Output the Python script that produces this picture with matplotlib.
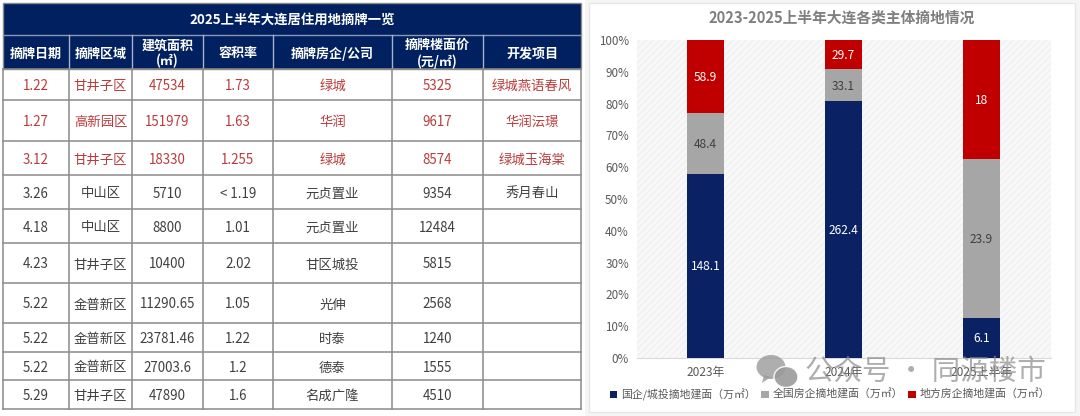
import matplotlib
matplotlib.use("Agg")
import matplotlib.pyplot as plt
from matplotlib.patches import Rectangle, Ellipse, Polygon
import numpy as np

plt.rcParams['font.family'] = ['Noto Sans CJK SC', 'DejaVu Sans']
W, H = 1080, 416

table_title = "2025上半年大连居住用地摘牌一览"
headers = ["摘牌日期", "摘牌区域", "建筑面积\n(㎡)", "容积率", "摘牌房企/公司", "摘牌楼面价\n(元/㎡)", "开发项目"]
dates = ["1.22", "1.27", "3.12", "3.26", "4.18", "4.23", "5.22", "5.22", "5.22", "5.29"]
districts = ["甘井子区", "高新园区", "甘井子区", "中山区", "中山区", "甘井子区", "金普新区", "金普新区", "金普新区", "甘井子区"]
areas = ["47534", "151979", "18330", "5710", "8800", "10400", "11290.65", "23781.46", "27003.6", "47890"]
ratios = ["1.73", "1.63", "1.255", "< 1.19", "1.01", "2.02", "1.05", "1.22", "1.2", "1.6"]
companies = ["绿城", "华润", "绿城", "元贞置业", "元贞置业", "甘区城投", "光伸", "时泰", "德泰", "名成广隆"]
prices = ["5325", "9617", "8574", "9354", "12484", "5815", "2568", "1240", "1555", "4510"]
projects = ["绿城燕语春风", "华润沄璟", "绿城玉海棠", "秀月春山", "", "", "", "", "", ""]
n_red_rows = 3

col_edges = [3, 69, 132, 203, 273, 392, 483, 581]
row_edges = [69, 100, 141, 175, 209, 243, 283, 323, 352, 380, 409]

chart_title = "2023-2025上半年大连各类主体摘地情况"
years = ["2023年", "2024年", "2025上半年"]
soe = [148.1, 262.4, 6.1]
national = [48.4, 33.1, 23.9]
local = [58.9, 29.7, 18]
legend_names = ["国企/城投摘地建面（万㎡）", "全国房企摘地建面（万㎡）", "地方房企摘地建面（万㎡）"]

NAVY, GREY, RED = "#0a2163", "#a6a6a6", "#c00000"

fig = plt.figure(figsize=(W / 100, H / 100), dpi=100, facecolor="#f5f5f5")
bg = fig.add_axes([0, 0, 1, 1])
bg.set_xlim(0, W); bg.set_ylim(H, 0); bg.axis("off")

# table panel
bg.add_patch(Rectangle((0, 0), 585, H, fc="white", ec="none"))
LINE = "#8a8a8a"
bg.add_patch(Rectangle((3, 3), 578, 66, fc="#002060", ec=LINE, lw=1))
bg.plot([3, 581], [35, 35], color="#8d97b5", lw=1)
bg.text((3 + 581) / 2, 20, table_title, color="white", fontsize=9.6, fontweight="bold", ha="center", va="center")
for i, h in enumerate(headers):
    x = (col_edges[i] + col_edges[i + 1]) / 2
    bg.text(x, 53.5, h, color="white", fontsize=9.4, fontweight="bold", ha="center", va="center", linespacing=1.15)
    if i:
        bg.plot([col_edges[i]] * 2, [35, 69], color="#a9b1c8", lw=1)

columns = [dates, districts, areas, ratios, companies, prices, projects]
for x in col_edges:
    bg.plot([x, x], [69, 409], color=LINE, lw=1.1)
for y in row_edges:
    bg.plot([3, 581], [y, y], color=LINE, lw=1.1)
for r in range(len(dates)):
    yc = (row_edges[r] + row_edges[r + 1]) / 2
    color = "#bb3b3a" if r < n_red_rows else "#404040"
    for c, col in enumerate(columns):
        if col[r]:
            bg.text((col_edges[c] + col_edges[c + 1]) / 2, yc + 1.5, col[r], color=color, fontsize=9.6,
                    ha="center", va="center")

# chart panel
bg.add_patch(Rectangle((589, 3), 486, 409, fc="white", ec="#e6e6e6", lw=1))
bg.text(842, 17.5, chart_title, color="#7f7f7f", fontsize=10.6, fontweight="bold", ha="center", va="center")

ax = fig.add_axes([636.5 / W, 1 - 358 / H, 414 / W, 318 / H])
ax.set_facecolor("#f8f8f8")
ax.patch.set_hatch("/////")
ax.patch.set_edgecolor("#f0f0f0")
ax.patch.set_linewidth(0)
x = np.arange(len(years))
total = np.array(soe) + np.array(national) + np.array(local)
bottom = np.zeros(len(years))
for vals, color, name, tc in [(soe, NAVY, legend_names[0], "white"),
                              (national, GREY, legend_names[1], "#404040"),
                              (local, RED, legend_names[2], "white")]:
    share = np.array(vals) / total
    ax.bar(x, share, 0.27, bottom=bottom, color=color, label=name, zorder=3)
    for xi, b, s, v in zip(x, bottom, share, vals):
        ax.text(xi, b + s / 2 - 0.003, f"{v:g}", color=tc, fontsize=8.6, ha="center", va="center", zorder=4)
    bottom += share
ax.set_xlim(-0.5, 2.5)
ax.set_ylim(0, 1)
ax.set_yticks(np.arange(0, 1.01, 0.1))
ax.set_yticklabels([f"{v}%" for v in range(0, 101, 10)], color="#595959", fontsize=8.4)
ax.set_xticks(x)
ax.set_xticklabels(years, color="#595959", fontsize=8.6)
ax.tick_params(axis="y", length=0, pad=5.5)
ax.tick_params(axis="x", length=0, pad=6)
for s in ["top", "left", "right"]:
    ax.spines[s].set_visible(False)
ax.spines["bottom"].set_color("#d9d9d9")
fig.legend(*ax.get_legend_handles_labels(), loc="center", bbox_to_anchor=(830 / W, 1 - 394.5 / H), ncol=3,
           frameon=False, fontsize=7.8, handlelength=0.7, handleheight=0.7, handletextpad=0.35,
           columnspacing=0.5, labelcolor="#595959")

# watermark
ov = fig.add_axes([0, 0, 1, 1], zorder=10)
ov.set_xlim(0, W); ov.set_ylim(H, 0); ov.axis("off"); ov.patch.set_alpha(0)
ov.add_patch(Ellipse((771, 367), 29, 24, fc="#9a9a9a", ec="none", alpha=0.8))
ov.add_patch(Polygon([(764, 375), (762, 383), (771, 377)], fc="#9a9a9a", ec="none", alpha=0.8))
ov.add_patch(Ellipse((786, 377), 24, 21, fc="#9a9a9a", ec="white", lw=1, alpha=0.9))
ov.text(925, 372, "公众号 · 同源楼市", color="#8c8c8c", alpha=0.7, fontsize=20.5, ha="center", va="center")

fig.savefig("out.png", dpi=100, facecolor=fig.get_facecolor())
